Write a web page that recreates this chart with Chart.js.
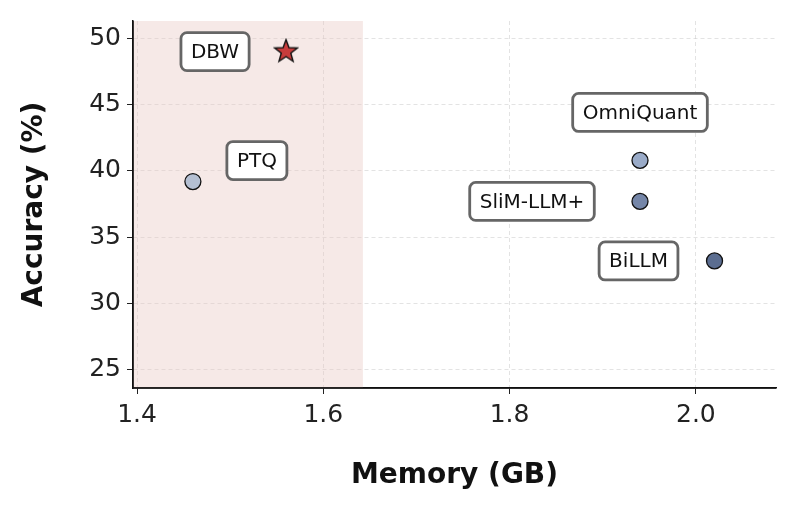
<!DOCTYPE html>
<html><head><meta charset="utf-8">
<script src="https://cdn.jsdelivr.net/npm/chart.js@4"></script>
<style>html,body{margin:0;padding:0;background:#fff}#wrap{width:788px;height:511px}</style>
</head><body><div id="wrap"><canvas id="c" width="788" height="511"></canvas></div>
<script>
const methods = ["DBW","PTQ","OmniQuant","SliM-LLM+","BiLLM"];
const memory = [1.56, 1.46, 1.94, 1.94, 2.02];
const accuracy = [49.1, 39.2, 40.8, 37.7, 33.2];
const xTicks = [1.4, 1.6, 1.8, 2.0];
const yTicks = [25, 30, 35, 40, 45, 50];
const shadeRange = [1.3957, 1.6425];

const colors = ["#c83c3c","#b4bfd2","#9aabc8","#7586a8","#5b6d90"];
const labelOffsets = [[-71,1],[64,-21],[0,-48],[-108,0],[-76,0]];
const F = "'DejaVu Sans', sans-serif";

function makeStar(){
  const c=document.createElement('canvas'); c.width=26; c.height=26;
  const g=c.getContext('2d'); g.beginPath();
  for(let k=0;k<10;k++){const r=k%2?5:12; const a=-Math.PI/2+k*Math.PI/5;
    g.lineTo(13+r*Math.cos(a),14+r*Math.sin(a));}
  g.closePath(); g.fillStyle="#c83c3c"; g.fill(); g.lineWidth=1.4; g.strokeStyle="#111"; g.stroke();
  return c;
}
const star = makeStar();

const plugin = {
  id:'deco',
  beforeDatasetsDraw(ch){
    const {ctx, chartArea:a, scales:{x}} = ch;
    ctx.save();
    ctx.fillStyle = "rgba(232,200,195,0.4)";
    const x0 = x.getPixelForValue(shadeRange[0]), x1 = x.getPixelForValue(shadeRange[1]);
    ctx.fillRect(x0, a.top, x1-x0, a.bottom-a.top);
    ctx.restore();
  },
  afterDatasetsDraw(ch){
    const {ctx, scales:{x,y}} = ch;
    ctx.save();
    ctx.font = "20px "+F;
    ctx.textAlign="center"; ctx.textBaseline="middle";
    methods.forEach((m,i)=>{
      const px = x.getPixelForValue(memory[i])+labelOffsets[i][0];
      const py = y.getPixelForValue(accuracy[i])+labelOffsets[i][1];
      const w = ctx.measureText(m).width + 20, h = 38;
      ctx.beginPath();
      ctx.roundRect(px-w/2, py-h/2, w, h, 6);
      ctx.fillStyle="#fff"; ctx.fill();
      ctx.lineWidth=2.8; ctx.strokeStyle="#666"; ctx.stroke();
      ctx.fillStyle="#111"; ctx.fillText(m, px, py+1);
    });
    ctx.restore();
  }
};

new Chart(document.getElementById('c'), {
  type:'scatter',
  data:{datasets:[{
    data: memory.map((v,i)=>({x:v,y:accuracy[i]})),
    backgroundColor: colors,
    borderColor:"#111", borderWidth:1.3,
    pointStyle: methods.map((m,i)=> i===0?star:'circle'),
    pointRadius: 8, pointHoverRadius: 8
  }]},
  options:{
    responsive:false, animation:false, devicePixelRatio:1,
    layout:{padding:{top:15,right:12,left:14,bottom:14}},
    plugins:{legend:{display:false},tooltip:{enabled:false}},
    scales:{
      x:{type:'linear', min:1.3957, max:2.086,
        afterBuildTicks(s){s.ticks = xTicks.map(v=>({value:v}));},
        afterFit(s){s.height=109;},
        ticks:{font:{family:F,size:25},color:"#222",padding:6,callback:v=>v.toFixed(1)},
        grid:{color:"rgba(200,200,200,0.5)",tickColor:"#222",tickLength:6,drawTicks:true},
        border:{color:"#111",width:1.5,dash:[4,3]},
        title:{display:true,text:"Memory (GB)",font:{family:F,size:28,weight:'bold'},color:"#111",padding:{top:4}}
      },
      y:{min:23.59, max:51.34,
        afterBuildTicks(s){s.ticks = yTicks.map(v=>({value:v}));},
        afterFit(s){s.width=119;},
        ticks:{font:{family:F,size:25},color:"#222",padding:6},
        grid:{color:"rgba(200,200,200,0.5)",tickColor:"#222",tickLength:6},
        border:{color:"#111",width:1.5,dash:[4,3]},
        title:{display:true,text:"Accuracy (%)",font:{family:F,size:28,weight:'bold'},color:"#111",padding:{bottom:4}}
      }
    }
  },
  plugins:[plugin, {id:'axes', afterDraw(ch){
    const {ctx, chartArea:a}=ch; ctx.save(); ctx.strokeStyle="#111"; ctx.lineWidth=1.5;
    ctx.setLineDash([]);
    ctx.beginPath(); ctx.moveTo(a.left,a.top); ctx.lineTo(a.left,a.bottom); ctx.lineTo(a.right,a.bottom); ctx.stroke(); ctx.restore();
  }}]
});
</script></body></html>
